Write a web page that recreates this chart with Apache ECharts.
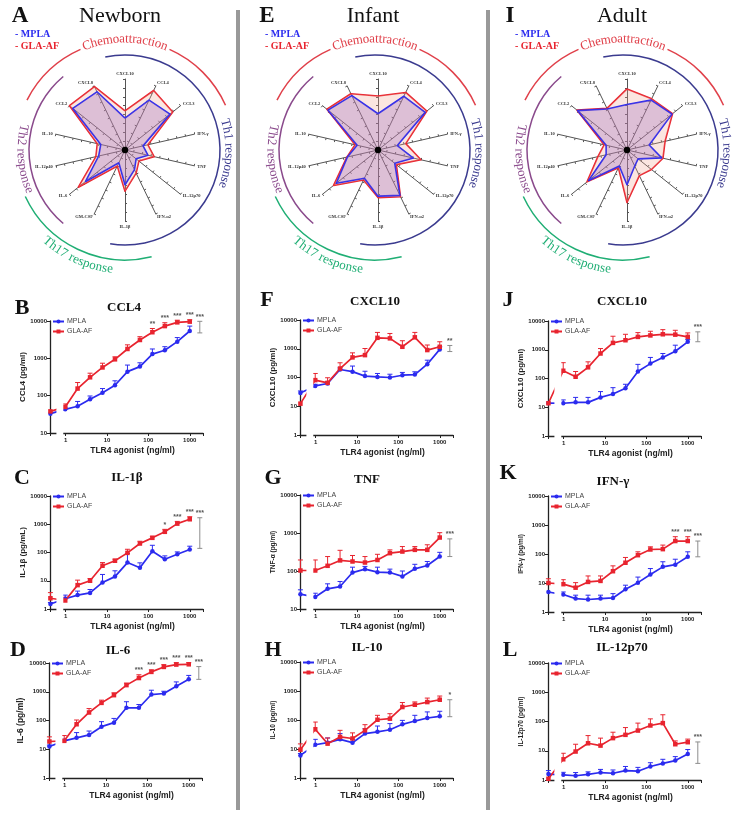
<!DOCTYPE html>
<html><head><meta charset="utf-8">
<script src="https://cdn.jsdelivr.net/npm/echarts@6/dist/echarts.min.js"></script>
<style>html,body{margin:0;padding:0;background:#fff}#c{width:745px;height:822px}</style>
</head><body><div id="c"></div>
<script>
// ===================== DATA =====================
const doses = [0.98, 1.95, 3.9, 7.8, 15.6, 31.25, 62.5, 125, 250, 500, 1000];
const ctrlDose = 0.43;      // unstimulated control, drawn left of the axis break
const bracketDose = 1750;   // position of the summary bracket

// Radar (pg/ml), axes listed counter-clockwise from top
const radarAxes = ['CXCL10','CXCL8','CCL2','IL-10','IL-12p40','IL-6','GM-CSF','IL-1β','IFN-α2','IL-12p70','TNF','IFN-γ','CCL3','CCL4'];
const newbornMPLA = [63, 4365, 5754, 25, 33, 692, 6.3, 91, 17, 6.3, 21, 11, 1738, 1318];
const newbornGLA  = [158, 9120, 10000, 40, 48, 2291, 10, 209, 28, 10, 48, 21, 2754, 5248];
const infantMPLA  = [110, 2512, 3981, 16, 58, 1000, 58, 398, 692, 16, 110, 13, 2512, 2291];
const infantGLA   = [1096, 3311, 4786, 21, 63, 1585, 76, 479, 832, 21, 302, 40, 3311, 3981];
const adultMPLA   = [363, 363, 3631, 16, 16, 575, 10, 91, 10, 6.3, 100, 19, 1738, 1318];
const adultGLA    = [2754, 398, 3981, 21, 48, 759, 13, 912, 40, 58, 120, 158, 1905, 1585];

// B CCL4 newborn
const B_MPLA = [43, 52, 80, 120, 190, 440, 600, 1300, 1650, 2800, 5400];
const B_MPLA_top = [49, 70, 98, 155, 250, 660, 760, 1780, 2050, 3600, 7300];
const B_GLA = [50, 155, 310, 570, 940, 1780, 3100, 5000, 7300, 9200, 9600];
const B_GLA_top = [60, 225, 400, 740, 1100, 2300, 3800, 6300, 9000, 10500, 10800];
const B_ctrl = [33, 38], B_ctrl_top = [33, 38];
const B_stars = ['','','','','','','','**','***','***','***'];
const B_bracket = [4800, 9800], B_bracketStars = '***';

// C IL-1b newborn
const C_MPLA = [2.3, 3.1, 3.7, 8.7, 14, 44, 29, 111, 58, 87, 128];
const C_MPLA_top = [3.1, 4.3, 4.9, 16.7, 22.5, 92, 43, 180, 76, 105, 167];
const C_GLA = [2.0, 7.0, 10, 34, 51, 97, 208, 330, 540, 1050, 1500];
const C_GLA_top = [2.6, 10.5, 12, 44, 58, 130, 250, 375, 660, 1260, 1850];
const C_ctrl = [1.5, 2.4], C_ctrl_top = [1.7, 3.8];
const C_stars = ['','','','','','','','','*','***','***'];
const C_bracket = [140, 1700], C_bracketStars = '***';

// D IL-6 newborn
const D_MPLA = [19.6, 25, 31.5, 61, 84, 277, 277, 800, 870, 1560, 2700];
const D_MPLA_top = [22, 38, 43, 91, 118, 450, 360, 1130, 1040, 2200, 3700];
const D_GLA = [19.6, 74, 190, 410, 760, 1700, 3000, 4900, 7300, 8800, 9000];
const D_GLA_top = [30, 104, 260, 510, 920, 2000, 3900, 5800, 8800, 10300, 10300];
const D_ctrl = [12.5, 18.6], D_ctrl_top = [14, 27];
const D_stars = ['','','','','','','***','***','***','***','***'];
const D_bracket = [2700, 7500], D_bracketStars = '***';

// F CXCL10 infant
const F_MPLA = [51, 62, 190, 160, 112, 105, 100, 120, 126, 290, 950];
const F_MPLA_top = [58, 72, 215, 250, 165, 138, 130, 150, 158, 400, 1170];
const F_GLA = [81, 65, 205, 500, 600, 2400, 2300, 1170, 2500, 900, 1170];
const F_GLA_top = [138, 98, 325, 720, 1020, 3700, 3400, 1900, 3700, 1350, 1750];
const F_ctrl = [29, 12.3], F_ctrl_top = [34, 12.3];
const F_stars = ['','','','','','','','','','',''];
const F_bracket = [800, 1300], F_bracketStars = '**';

// G TNF infant
const G_MPLA = [20.6, 34, 39, 91, 112, 93, 91, 72, 114, 140, 240];
const G_MPLA_top = [26, 46, 53, 126, 132, 126, 112, 100, 150, 178, 310];
const G_GLA = [103, 137, 190, 178, 167, 195, 295, 325, 360, 360, 760];
const G_GLA_top = [195, 240, 350, 256, 240, 275, 360, 440, 440, 490, 1020];
const G_ctrl = [24.6, 103], G_ctrl_top = [32, 195];
const G_stars = ['','','','','','','','','','',''];
const G_bracket = [240, 700], G_bracketStars = '***';

// H IL-10 infant
const H_MPLA = [14, 16.5, 21.5, 16.5, 34, 39, 46, 71, 92, 117, 134];
const H_MPLA_top = [21.5, 24, 34, 21.5, 50, 62, 75, 97, 145, 190, 200];
const H_GLA = [48, 15.3, 26, 23, 44, 102, 111, 280, 335, 415, 500];
const H_GLA_top = [85, 24, 44, 36, 69, 145, 165, 400, 420, 570, 670];
const H_ctrl = [6, 9.5], H_ctrl_top = [7, 15];
const H_stars = ['','','','','','','','','','',''];
const H_bracket = [130, 500], H_bracketStars = '*';

// J CXCL10 adult
const J_MPLA = [13.8, 14.8, 14.8, 22, 29, 46, 174, 330, 540, 890, 1880];
const J_MPLA_top = [18, 22, 22, 35, 48, 63, 310, 540, 740, 1440, 2250];
const J_GLA = [186, 115, 245, 740, 1730, 2140, 2800, 3150, 3450, 3350, 2800];
const J_GLA_top = [355, 175, 380, 1100, 2950, 3450, 3950, 4400, 5000, 4750, 3850];
const J_ctrl = [14, 13.8], J_ctrl_top = [14, 13.8];
const J_stars = ['','','','','','','','','','',''];
const J_bracket = [1900, 4200], J_bracketStars = '***';

// K IFN-g adult
const K_MPLA = [4.0, 2.9, 2.7, 2.9, 3.05, 6.1, 10.3, 19.6, 36, 43, 80];
const K_MPLA_top = [4.9, 3.8, 3.8, 3.8, 4.3, 8.4, 16, 31.5, 54, 66, 119];
const K_GLA = [9.1, 6.9, 10.9, 11.8, 25.5, 50, 91, 143, 147, 280, 280];
const K_GLA_top = [13, 10.3, 17.5, 17.5, 39, 76, 119, 177, 203, 395, 395];
const K_ctrl = [4.9, 10], K_ctrl_top = [4.9, 14];
const K_stars = ['','','','','','','','','','***','***'];
const K_bracket = [80, 280], K_bracketStars = '***';

// L IL-12p70 adult
const L_MPLA = [1.5, 1.4, 1.56, 1.8, 1.7, 2.1, 2.0, 2.9, 3.7, 4.6, 7.8];
const L_MPLA_top = [1.83, 1.8, 1.9, 2.3, 2.2, 2.9, 2.7, 3.9, 5.1, 6.3, 11];
const L_GLA = [5.1, 9.4, 18, 15, 27, 35, 49, 73, 88, 16.7, 19.6];
const L_GLA_top = [8.2, 16.7, 33, 27, 43, 62, 88, 123, 170, 21.7, 25];
const L_ctrl = [1.6, 1.1], L_ctrl_top = [2.1, 1.1];
const L_stars = ['','','','','','','','','','',''];
const L_bracket = [3.7, 20], L_bracketStars = '***';

// ===================== LAYOUT / STYLE =====================
const BLUE = '#2b2bef', RED = '#e8242f';
const SANS = 'Liberation Sans', SERIF = 'Liberation Serif';

const panelData = {
  B:{m:B_MPLA,mt:B_MPLA_top,g:B_GLA,gt:B_GLA_top,c:B_ctrl,ct:B_ctrl_top,s:B_stars,br:B_bracket,bs:B_bracketStars},
  C:{m:C_MPLA,mt:C_MPLA_top,g:C_GLA,gt:C_GLA_top,c:C_ctrl,ct:C_ctrl_top,s:C_stars,br:C_bracket,bs:C_bracketStars},
  D:{m:D_MPLA,mt:D_MPLA_top,g:D_GLA,gt:D_GLA_top,c:D_ctrl,ct:D_ctrl_top,s:D_stars,br:D_bracket,bs:D_bracketStars},
  F:{m:F_MPLA,mt:F_MPLA_top,g:F_GLA,gt:F_GLA_top,c:F_ctrl,ct:F_ctrl_top,s:F_stars,br:F_bracket,bs:F_bracketStars},
  G:{m:G_MPLA,mt:G_MPLA_top,g:G_GLA,gt:G_GLA_top,c:G_ctrl,ct:G_ctrl_top,s:G_stars,br:G_bracket,bs:G_bracketStars},
  H:{m:H_MPLA,mt:H_MPLA_top,g:H_GLA,gt:H_GLA_top,c:H_ctrl,ct:H_ctrl_top,s:H_stars,br:H_bracket,bs:H_bracketStars},
  J:{m:J_MPLA,mt:J_MPLA_top,g:J_GLA,gt:J_GLA_top,c:J_ctrl,ct:J_ctrl_top,s:J_stars,br:J_bracket,bs:J_bracketStars},
  K:{m:K_MPLA,mt:K_MPLA_top,g:K_GLA,gt:K_GLA_top,c:K_ctrl,ct:K_ctrl_top,s:K_stars,br:K_bracket,bs:K_bracketStars},
  L:{m:L_MPLA,mt:L_MPLA_top,g:L_GLA,gt:L_GLA_top,c:L_ctrl,ct:L_ctrl_top,s:L_stars,br:L_bracket,bs:L_bracketStars}
};

const layout = [
  {k:'B', title:'CCL4',     ylab:'CCL4 (pg/ml)',     left:50,  top:321, h:112, ymin:10, lx:22,  ly:308, tx:124, ty:308, ns:8,   ng:21},
  {k:'C', title:'IL-1β',    ylab:'IL-1β (pg/mL)',    left:50,  top:496, h:113, ymin:1,  lx:22,  ly:478, tx:127, ty:478, ns:8,   ng:21},
  {k:'D', title:'IL-6',     ylab:'IL-6 (pg/ml)',     left:49,  top:663, h:115, ymin:1,  lx:18,  ly:650, tx:118, ty:651, ns:8.5, ng:21},
  {k:'F', title:'CXCL10',   ylab:'CXCL10 (pg/ml)',   left:300, top:320, h:115, ymin:1,  lx:267, ly:300, tx:375, ty:302, ns:8,   ng:21},
  {k:'G', title:'TNF',      ylab:'TNF-α (pg/ml)',    left:300, top:495, h:114, ymin:10, lx:273, ly:478, tx:367, ty:480, ns:6.5, ng:19},
  {k:'H', title:'IL-10',    ylab:'IL-10 (pg/ml)',    left:300, top:662, h:116, ymin:1,  lx:273, ly:650, tx:367, ty:648, ns:6.5, ng:20},
  {k:'J', title:'CXCL10',   ylab:'CXCL10 (pg/ml)',   left:548, top:321, h:115, ymin:1,  lx:508, ly:300, tx:622, ty:302, ns:8,   ng:21},
  {k:'K', title:'IFN-γ',    ylab:'IFN-γ (pg/ml)',    left:548, top:496, h:116, ymin:1,  lx:508, ly:473, tx:613, ty:482, ns:6.5, ng:20},
  {k:'L', title:'IL-12p70', ylab:'IL-12p70 (pg/ml)', left:548, top:663, h:117, ymin:1,  lx:510, ly:650, tx:622, ty:648, ns:6.5, ng:20}
];

const columns = [
  {letter:'A', name:'Newborn', lx:20,  nx:120, rcx:125, acx:125, mpla:newbornMPLA, gla:newbornGLA, legx:15},
  {letter:'E', name:'Infant',  lx:267, nx:373, rcx:378, acx:375, mpla:infantMPLA,  gla:infantGLA,  legx:265},
  {letter:'I', name:'Adult',   lx:510, nx:622, rcx:627, acx:623, mpla:adultMPLA,   gla:adultGLA,   legx:515}
];

// ===================== BUILD =====================
const grids = [], xAxes = [], yAxes = [], series = [], legends = [];
const XMIN = 0.42, XMAX = 2090;

function errItem(color) {
  return function (params, api) {
    const p0 = api.coord([api.value(0), api.value(1)]);
    const p1 = api.coord([api.value(0), api.value(2)]);
    if (Math.abs(p0[1] - p1[1]) < 0.5) return null;
    return {type:'group', children:[
      {type:'line', shape:{x1:p0[0], y1:p0[1], x2:p1[0], y2:p1[1]}, style:{stroke:color, lineWidth:1}},
      {type:'line', shape:{x1:p1[0]-2.5, y1:p1[1], x2:p1[0]+2.5, y2:p1[1]}, style:{stroke:color, lineWidth:1}}
    ]};
  };
}

layout.forEach((p, i) => {
  const d = panelData[p.k];
  grids.push({left:p.left, top:p.top, width:153, height:p.h});
  xAxes.push({
    type:'log', gridIndex:i, min:XMIN, max:XMAX,
    axisLine:{lineStyle:{color:'#222', width:1.3}},
    axisTick:{show:true, length:3, lineStyle:{color:'#222', width:1}},
    axisLabel:{fontSize:6, fontWeight:'bold', color:'#222', fontFamily:SANS, margin:4,
      formatter:v => { const l = Math.log10(v); const r = Math.round(l);
        return (Math.abs(l - r) < 1e-6 && r >= 0 && r <= 3) ? String(Math.pow(10, r)) : ''; }},
    splitLine:{show:false},
    name:'TLR4 agonist (ng/ml)', nameLocation:'middle', nameGap:13,
    nameTextStyle:{fontSize:8.5, fontWeight:'bold', color:'#222', fontFamily:SANS, padding:[0,0,0,12]}
  });
  yAxes.push({
    type:'log', gridIndex:i, min:p.ymin, max:10000, logBase:10,
    axisLine:{show:true, lineStyle:{color:'#222', width:1.3}},
    axisTick:{show:true, length:3, lineStyle:{color:'#222', width:1}},
    axisLabel:{fontSize:6, fontWeight:'bold', color:'#222', fontFamily:SANS, margin:3,
      formatter:v => String(Math.round(v))},
    splitLine:{show:false},
    name:p.ylab, nameLocation:'middle', nameGap:p.ng,
    nameTextStyle:{fontSize:p.ns, fontWeight:'bold', color:'#222', fontFamily:SANS}
  });
  const mplaLine = [[ctrlDose, d.c[0]]].concat(doses.map((x, j) => [x, d.m[j]]));
  const glaLine  = [[ctrlDose, d.c[1]]].concat(doses.map((x, j) => [x, d.g[j]]));
  const mplaErr = [[ctrlDose, d.c[0], d.ct[0]]].concat(doses.map((x, j) => [x, d.m[j], d.mt[j]]));
  const glaErr  = [[ctrlDose, d.c[1], d.ct[1]]].concat(doses.map((x, j) => [x, d.g[j], d.gt[j]]));
  series.push({type:'custom', name:'errM'+i, xAxisIndex:i, yAxisIndex:i, renderItem:errItem(BLUE), data:mplaErr, z:2, silent:true});
  series.push({type:'custom', name:'errG'+i, xAxisIndex:i, yAxisIndex:i, renderItem:errItem(RED), data:glaErr, z:2, silent:true});
  series.push({type:'line', name:'MPLA', xAxisIndex:i, yAxisIndex:i, data:mplaLine, symbol:'circle', symbolSize:4.5,
    itemStyle:{color:BLUE}, lineStyle:{color:BLUE, width:1.7}, z:2, silent:true, animation:false});
  series.push({type:'line', name:'GLA-AF', xAxisIndex:i, yAxisIndex:i, data:glaLine, symbol:'rect', symbolSize:4.5,
    itemStyle:{color:RED}, lineStyle:{color:RED, width:1.7}, z:2, silent:true, animation:false});
  // significance stars above points
  const starData = doses.map((x, j) => [x, Math.max(d.gt[j], d.mt[j])]);
  series.push({type:'custom', name:'stars'+i, xAxisIndex:i, yAxisIndex:i, data:starData, z:2, silent:true,
    renderItem:(params, api) => {
      const s = d.s[params.dataIndex]; if (!s) return null;
      const pt = api.coord([api.value(0), api.value(1)]);
      return {type:'text', x:pt[0], y:pt[1]-1, style:{text:s, fill:'#555', fontSize:7, fontWeight:'bold',
        fontFamily:SANS, align:'center', verticalAlign:'bottom'}};
    }});
  // summary bracket
  series.push({type:'custom', name:'br'+i, xAxisIndex:i, yAxisIndex:i, data:[[bracketDose, d.br[0], d.br[1]]], z:2, silent:true,
    renderItem:(params, api) => {
      const lo = api.coord([api.value(0), api.value(1)]);
      const hi = api.coord([api.value(0), api.value(2)]);
      const c = '#8d8d8d';
      return {type:'group', children:[
        {type:'line', shape:{x1:lo[0], y1:lo[1], x2:hi[0], y2:hi[1]}, style:{stroke:c, lineWidth:1}},
        {type:'line', shape:{x1:lo[0]-2.5, y1:lo[1], x2:lo[0]+2.5, y2:lo[1]}, style:{stroke:c, lineWidth:1}},
        {type:'line', shape:{x1:hi[0]-2.5, y1:hi[1], x2:hi[0]+2.5, y2:hi[1]}, style:{stroke:c, lineWidth:1}},
        {type:'text', x:hi[0], y:hi[1]-1, style:{text:d.bs, fill:'#555', fontSize:7, fontWeight:'bold',
          fontFamily:SANS, align:'center', verticalAlign:'bottom'}}
      ]};
    }});
  legends.push({data:['MPLA','GLA-AF'], left:p.left+2, top:p.top-3, orient:'vertical', itemWidth:11, itemHeight:5,
    itemGap:3, padding:0, z:6, selectedMode:false,
    textStyle:{fontSize:7, color:'#444', fontFamily:SANS, padding:[0,0,0,-2]}});
});

// radars
const radars = [];
columns.forEach((c, ci) => {
  radars.push({
    center:[c.rcx, 150], radius:71, startAngle:90, shape:'polygon', splitNumber:8,
    indicator: radarAxes.map(n => ({name:n, min:0, max:4})),
    axisName:{color:'#333', fontSize:4.5, fontWeight:'bold', fontFamily:SERIF},
    nameGap:3,
    axisLine:{lineStyle:{color:'#555', width:1}},
    axisTick:{show:true, length:2, lineStyle:{color:'#555'}},
    splitLine:{show:false}, splitArea:{show:false}
  });
  series.push({type:'radar', radarIndex:ci, symbol:'none', silent:true, z:2, animation:false,
    data:[
      {name:'GLA-AF radar', value:c.gla.map(v => Math.log10(v)),
        lineStyle:{color:RED, width:1.6}, areaStyle:{color:'rgba(240,160,140,0.38)'}},
      {name:'MPLA radar', value:c.mpla.map(v => Math.log10(v)),
        lineStyle:{color:BLUE, width:1.6}, areaStyle:{color:'rgba(150,100,190,0.42)'}}
    ]});
});

const chart = echarts.init(document.getElementById('c'), null, {renderer:'canvas'});
chart.setOption({
  animation:false, backgroundColor:'#fff',
  grid:grids, xAxis:xAxes, yAxis:yAxes, radar:radars, legend:legends, series:series
});

// ===================== DECORATIONS =====================
const G = [];
const measureCtx = document.createElement('canvas').getContext('2d');
function textEl(text, x, y, size, color, opts) {
  opts = opts || {};
  G.push({type:'text', x:x, y:y, z:10, silent:true, style:{text:text, fill:color, fontSize:size,
    fontFamily:opts.family || SERIF, fontWeight:opts.weight || 'normal',
    align:opts.align || 'center', verticalAlign:'middle'}});
}
function deg(a) { return a * Math.PI / 180; }
// theta measured clockwise from top
function arcEl(cx, cy, r, t0, t1, color) {
  G.push({type:'arc', z:10, silent:true, shape:{cx:cx, cy:cy, r:r, startAngle:deg(t0-90), endAngle:deg(t1-90), clockwise:true},
    style:{stroke:color, lineWidth:1.5, fill:null}});
}
function arcText(str, cx, cy, R, tCenter, dir, size, color) {
  measureCtx.font = size + 'px "' + SERIF + '"';
  const chars = Array.from(str);
  const w = chars.map(ch => measureCtx.measureText(ch).width);
  const total = w.reduce((a, b) => a + b, 0);
  let a = deg(tCenter) - dir * total / R / 2;
  chars.forEach((ch, i) => {
    const am = a + dir * (w[i] / 2) / R;
    const x = cx + R * Math.sin(am), y = cy - R * Math.cos(am);
    const rot = dir === 1 ? -am : -(am - Math.PI);
    G.push({type:'text', x:x, y:y, rotation:rot, z:10, silent:true,
      style:{text:ch, fill:color, fontSize:size, fontFamily:SERIF, align:'center', verticalAlign:'middle'}});
    a += dir * w[i] / R;
  });
  return total / R * 180 / Math.PI; // angular span in degrees
}

const CHEMO = '#e0404a', TH1 = '#3b3b8f', TH2 = '#8a4a8c', TH17 = '#1fae74';
columns.forEach(c => {
  textEl(c.letter, c.lx, 16, 23, '#111', {weight:'bold'});
  textEl(c.name, c.nx, 16, 22, '#111');
  textEl('- MPLA', c.legx, 34, 10, BLUE, {weight:'bold', align:'left'});
  textEl('- GLA-AF', c.legx, 46, 10, RED, {weight:'bold', align:'left'});
  const cx = c.acx, cy = 150;
  const span = arcText('Chemoattraction', cx, cy, 111, 0, 1, 13, CHEMO);
  arcEl(cx, cy, 110, -63, -span/2 - 1.5, CHEMO);
  arcEl(cx, cy, 110, span/2 + 1.5, 66, CHEMO);
  arcEl(cx, cy, 95, -12, 189, TH1);
  arcText('Th1 response', cx, cy, 104, 92, 1, 13, TH1);
  arcEl(cx, cy, 96, 220, 320, TH2);
  arcText('Th2 response', cx, cy, 104, 265, -1, 13, TH2);
  arcEl(cx, cy, 110, 166, 245, TH17);
  arcText('Th17 response', cx, cy, 120, 204, -1, 13, TH17);
  G.push({type:'circle', z:10, silent:true, shape:{cx:c.rcx, cy:150, r:3.2}, style:{fill:'#000'}});
});

// separators
G.push({type:'rect', z:10, silent:true, shape:{x:236, y:10, width:4, height:800}, style:{fill:'#999'}});
G.push({type:'rect', z:10, silent:true, shape:{x:486, y:10, width:4, height:800}, style:{fill:'#999'}});

// panel letters, titles and axis-break masks
layout.forEach((p, i) => {
  textEl(p.k, p.lx, p.ly, 22, '#111', {weight:'bold'});
  textEl(p.title, p.tx, p.ty, 13, '#111', {weight:'bold'});
  const xa = chart.convertToPixel({xAxisIndex:i}, 0.6);
  const xb = chart.convertToPixel({xAxisIndex:i}, 0.88);
  G.push({type:'rect', z:3, silent:true, shape:{x:xa, y:p.top - 4, width:xb - xa, height:p.h + 6}, style:{fill:'#fff'}});
});

chart.setOption({graphic:{elements:G}});
</script>
</body></html>
